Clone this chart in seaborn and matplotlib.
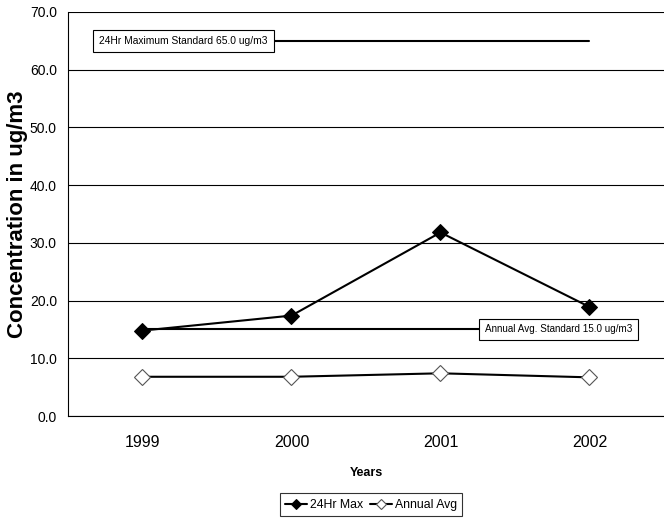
import pandas as pd
import matplotlib
matplotlib.use('Agg')
import matplotlib.pyplot as plt
from matplotlib.ticker import FixedLocator
import seaborn as sns

# Données
years = ['1999', '2000', '2001', '2002']
max_24hr = [14.8, 17.4, 31.8, 18.9]
annual_avg = [6.8, 6.8, 7.4, 6.7]
std_24hr = [65.0, 65.0, 65.0, 65.0]
std_annual = [15.0, 15.0, 15.0, 15.0]
y_ticks = [0, 10, 20, 30, 40, 50, 60, 70]

df = pd.DataFrame({'Year': years, '24Hr Max': max_24hr, 'Annual Avg': annual_avg,
                   'Std24': std_24hr, 'StdAnn': std_annual})

sns.set_style('white')
plt.rcParams['font.family'] = ['Liberation Sans', 'DejaVu Sans']
plt.rcParams['text.color'] = 'black'
plt.rcParams['axes.labelcolor'] = 'black'
plt.rcParams['xtick.color'] = 'black'
plt.rcParams['ytick.color'] = 'black'

fig = plt.figure(figsize=(6.64, 5.21), dpi=100)
ax = fig.add_axes([0.1024, 0.2015, 0.8976, 0.7755])

# Lignes de standard
sns.lineplot(data=df, x='Year', y='Std24', ax=ax, color='black', lw=1.5, legend=False)
sns.lineplot(data=df, x='Year', y='StdAnn', ax=ax, color='black', lw=1.5, legend=False)

# Séries
sns.lineplot(data=df, x='Year', y='24Hr Max', ax=ax, color='black', lw=1.5,
             marker='D', markersize=8, markerfacecolor='black', markeredgecolor='black',
             label='24Hr Max')
sns.lineplot(data=df, x='Year', y='Annual Avg', ax=ax, color='black', lw=1.5,
             marker='D', markersize=8, markerfacecolor='white', markeredgecolor='#555555',
             markeredgewidth=0.8, label='Annual Avg')

ax.set_ylim(0, 70)
ax.set_xlim(-0.5, 3.5)
ax.set_yticks(y_ticks)
ax.set_yticklabels([f'{v:.1f}' for v in y_ticks], fontsize=10)
ax.set_xticks(range(len(years)))
ax.set_xticklabels(years, fontsize=11.5)
ax.xaxis.set_minor_locator(FixedLocator([-0.5, 0.5, 1.5, 2.5, 3.5]))
ax.tick_params(axis='x', which='major', length=0, pad=14)
ax.tick_params(axis='x', which='minor', length=5, width=0.8, color='black', direction='out')
ax.tick_params(axis='y', length=5, width=0.8, color='black', direction='out', pad=3)
ax.yaxis.grid(True, color='black', lw=0.8)
ax.set_axisbelow(True)

for s in ['top', 'right']:
    ax.spines[s].set_visible(False)
for s in ['left', 'bottom']:
    ax.spines[s].set_color('black')
    ax.spines[s].set_linewidth(0.8)

ax.set_ylabel('Concentration in ug/m3', fontsize=16, fontweight='bold')
ax.yaxis.set_label_coords(-0.067, 0.5)
ax.set_xlabel('Years', fontsize=9, fontweight='bold', labelpad=12)

# Étiquettes des standards
box = dict(boxstyle='square,pad=0.6', facecolor='white', edgecolor='black', lw=0.8)
ax.text(0.275, 65.0, '24Hr Maximum Standard 65.0 ug/m3', fontsize=7.4, va='center',
        ha='center', bbox=box, zorder=5)
ax.text(2.792, 15.0, 'Annual Avg. Standard 15.0 ug/m3', fontsize=7.1, va='center',
        ha='center', bbox=box, zorder=5)

leg = ax.legend(loc='center', bbox_to_anchor=(0.559, 0.031), bbox_transform=fig.transFigure,
                ncol=2, frameon=True, fancybox=False, edgecolor='black', fontsize=8.8,
                markerscale=0.7, handlelength=1.8, handletextpad=0.25, columnspacing=0.5,
                borderpad=0.45)
leg.get_frame().set_linewidth(0.8)

plt.savefig('out.png', dpi=100)
